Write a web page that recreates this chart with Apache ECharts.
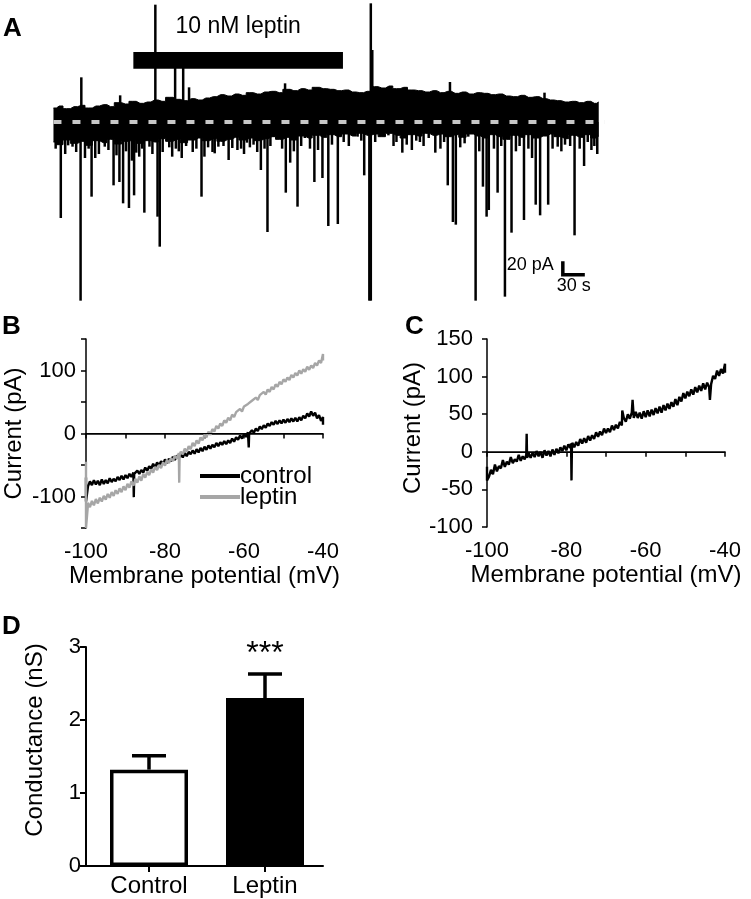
<!DOCTYPE html>
<html><head><meta charset="utf-8">
<script src="https://cdn.jsdelivr.net/npm/echarts@6/dist/echarts.min.js"></script>
<style>html,body{margin:0;padding:0;background:#fff}#c{width:751px;height:899px}</style>
</head><body><div id="c"></div>
<script>
// ---------- Panel A: whole-cell trace ----------
const bandTime = [2,10,20,30,40,50,60,70,80,90,100,110,120,130,140,150,160,170,180,190,200,210,220,230,240,250,260,270,280,290,300,310,320,330,340,350,360,370,380,390,400,410,420,430,440,450,460,470,480,490,500,510,520,530,540,550,560,570,580,590,600,610,620,630,640,650,660,670,680,690,700,710,720,730,740,746];
const bandUpper = [21,24,20,23,25,21,24,26,23,29, 27,31,28,30,33,31,37,34,32,35, 33,36,38,41,39,42,40,44,42,45, 46,44,49,47,50,48,52,50,49,47, 48,45,44,46,53,51,54,50,52,48, 47,45,47,44,46,43,45,42,44,43, 41,42,39,38,40,37,38,35,33,32, 30,31,29,31,28,30];
const bandLower = [-30,-34,-27,-32,-29,-35,-28,-31,-26,-33, -29,-27,-32,-28,-30,-25,-29,-26,-31,-27, -24,-28,-25,-29,-26,-23,-27,-24,-28,-25, -22,-26,-23,-27,-21,-24,-20,-23,-19,-22, -18,-21,-17,-20,-18,-22,-17,-20,-24,-19, -21,-17,-20,-18,-22,-19,-23,-18,-21,-24, -19,-22,-26,-20,-23,-19,-24,-21,-18,-22, -25,-20,-23,-19,-24,-21];
const spikes = [[12,-144],[28,-37],[39,-268],[45,-54],[54,-112],[59,-54],[72,-37],[84,-95],[92,-90],[97,-122],[105,-129],[112,-110],[119,-52],[126,-136],[133,-37],[144,-142],[147,-187],[156,-24],[164,-52],[169,-40],[177,-54],[192,-45],[204,-112],[208,-52],[219,-45],[227,-37],[241,-57],[246,-39],[253,-42],[266,-31],[275,-34],[285,-72],[294,-165],[303,-22],[310,-20],[319,-106],[325,-61],[335,-127],[345,-24],[358,-90],[369,-84],[377,-156],[390,-153],[417,-22],[426,-80],[433,-268],[435,-268],[450,-16],[459,-20],[478,-46],[491,-42],[502,-30],[514,-24],[523,-46],[540,-95],[547,-150],[551,-154],[568,-22],[578,-268],[588,-97],[593,-142],[596,-132],[608,-106],[618,-262],[627,-166],[644,-147],[660,-124],[666,-140],[677,-124],[690,-37],[700,-34],[713,-170],[726,-66],[736,-42],[744,-48],
  [5,-40],[18,-48],[22,-35],[33,-45],[50,-40],[64,-48],[77,-42],[88,-50],[101,-44],[109,-58],[115,-46],[123,-40],[137,-48],[151,-45],[160,-38],[173,-44],[183,-36],[197,-40],[213,-38],[222,-47],[234,-36],[258,-40],[262,-48],[270,-38],[280,-45],[290,-40],[298,-36],[314,-40],[330,-44],[340,-36],[352,-40],[363,-42],[382,-34],[398,-30],[405,-36],[422,-28],[441,-30],[466,-36],[470,-30],[484,-34],[497,-28],[507,-36],[530,-40],[535,-30],[557,-38],[563,-32],[583,-44],[603,-40],[613,-36],[633,-44],[638,-36],[650,-40],[655,-54],[683,-40],[695,-44],[707,-36],[720,-40],[731,-30],[740,-36],
  [40,67],[93,40],[141,176],[168,105],[179,93],[187,52],[318,58],[435,178],[437,108],[543,60],[672,44]];
const leptinPeriod = [111, 397];
const baselineSpan = [2, 754];
const scaleBarCorner = [697, -229];
const scaleBarSize = [30, 20]; // 30 s, 20 pA

// ---------- Panel B: I-V, control vs leptin ----------
const ivControlB = [[-100,-70],[-100,-108],[-99.5,-84],[-99,-76],[-98.5,-82],[-98,-74],[-97.5,-81],[-97,-75],[-96.5,-82],[-96,-73],[-95.5,-80],[-95,-74],[-94.5,-79],[-94,-71],[-93.5,-77],[-93,-72],[-92.5,-76],[-92,-69],[-91.5,-74],[-91,-67],[-90.5,-73],[-90,-66],[-89.5,-71],[-89,-64],[-88.5,-69],[-88,-62],[-87.9,-101],[-87.8,-64],[-87.5,-66],[-87,-59],[-86.5,-64],[-86,-58],[-85.5,-62],[-85,-54],[-84.5,-59],[-84,-52],[-83.5,-56],[-83,-48],[-82.5,-54],[-82,-46],[-81.5,-51],[-81,-44],[-80.5,-49],[-80,-41],[-79.5,-47],[-79,-40],[-78.5,-44],[-78,-37],[-77.5,-42],[-77,-35],[-76.5,-39],[-76,-33],[-75.5,-38],[-75,-31],[-74.5,-36],[-74,-29],[-73.5,-33],[-73,-27],[-72.5,-32],[-72,-25],[-71.5,-30],[-71,-23],[-70.5,-28],[-70,-21],[-69.5,-26],[-69,-19],[-68.5,-24],[-68,-18],[-67.5,-22],[-67,-15],[-66.5,-20],[-66,-14],[-65.5,-18],[-65,-12],[-64.5,-17],[-64,-11],[-63.5,-15],[-63,-8],[-62.5,-13],[-62,-6],[-61.5,-10],[-61,-3],[-60.5,-8],[-60,-1],[-59.5,-5],[-59,2],[-58.8,-22],[-58.7,0],[-58.5,-2],[-58,5],[-57.5,1],[-57,8],[-56.5,4],[-56,11],[-55.5,7],[-55,13],[-54.5,9],[-54,16],[-53.5,12],[-53,18],[-52.5,14],[-52,20],[-51.5,15],[-51,21],[-50.5,16],[-50,22],[-49.5,17],[-49,23],[-48.5,18],[-48,24],[-47.5,19],[-47,25],[-46.5,19],[-46,26],[-45.5,21],[-45,28],[-44.5,24],[-44,32],[-43.5,27],[-43,35],[-42.5,28],[-42,33],[-41.5,24],[-41,29],[-40.5,20],[-40,26],[-40,14]];
const ivLeptinB = [[-100,-45],[-100,-150],[-99.6,-120],[-99.5,-110],[-99,-117],[-98.5,-107],[-98,-114],[-97.5,-104],[-97,-111],[-96.5,-102],[-96,-108],[-95.5,-99],[-95,-105],[-94.5,-96],[-94,-102],[-93.5,-93],[-93,-99],[-92.5,-90],[-92,-96],[-91.5,-87],[-91,-93],[-90.5,-84],[-90,-90],[-89.5,-80],[-89,-86],[-88.5,-76],[-88,-83],[-87.5,-72],[-87,-78],[-86.5,-68],[-86,-75],[-85.5,-64],[-85,-70],[-84.5,-61],[-84,-66],[-83.5,-57],[-83,-62],[-82.5,-53],[-82,-58],[-81.5,-50],[-81,-55],[-80.5,-46],[-80,-51],[-79.5,-42],[-79,-47],[-78.5,-39],[-78,-44],[-77.5,-35],[-77,-40],[-76.5,-31],[-76.4,-78],[-76.3,-34],[-76,-29],[-75.5,-33],[-75,-24],[-74.5,-29],[-74,-20],[-73.5,-25],[-73,-15],[-72.5,-20],[-72,-11],[-71.5,-16],[-71,-6],[-70.5,-11],[-70,-2],[-69.5,-6],[-69,3],[-68.5,-2],[-68,7],[-67.5,3],[-67,12],[-66.5,8],[-66,16],[-65.5,12],[-65,21],[-64.5,17],[-64,25],[-63.5,21],[-63,30],[-62.5,26],[-62,34],[-61.5,31],[-61,39],[-60.5,35],[-60,43],[-59.5,40],[-59,47],[-58.5,44],[-58,52],[-57.5,49],[-57,57],[-56.5,53],[-56,61],[-55.5,58],[-55,66],[-54.5,62],[-54,70],[-53.5,66],[-53,74],[-52.5,70],[-52,78],[-51.5,74],[-51,82],[-50.5,78],[-50,86],[-49.5,82],[-49,89],[-48.5,85],[-48,93],[-47.5,89],[-47,96],[-46.5,92],[-46,100],[-45.5,95],[-45,102],[-44.5,98],[-44,106],[-43.5,101],[-43,108],[-42.5,104],[-42,112],[-41.5,108],[-41,116],[-40.5,112],[-40,126],[-40,116]];

// ---------- Panel C: leptin-induced current ----------
const ivDiffC = [[-100,-20],[-100,-38],[-99.5,-33],[-99,-24],[-98.5,-30],[-98,-17],[-97.5,-26],[-97,-19],[-96.5,-22],[-96,-11],[-95.5,-20],[-95,-13],[-94.5,-17],[-94,-7],[-93.5,-15],[-93,-10],[-92.5,-13],[-92,-4],[-91.5,-12],[-91,-6],[-90.5,-10],[-90.1,-4],[-90,24],[-89.9,-8],[-89.5,-2],[-89,-8],[-88.5,-1],[-88,-7],[-87.5,1],[-87,-6],[-86.5,0],[-86,-8],[-85.5,2],[-85,-5],[-84.5,1],[-84,-6],[-83.5,3],[-83,-4],[-82.5,4],[-82,-2],[-81.5,6],[-81,1],[-80.5,8],[-80,2],[-79.5,10],[-79,5],[-78.8,11],[-78.7,-38],[-78.6,4],[-78.5,12],[-78,6],[-77.5,13],[-77,8],[-76.5,17],[-76,11],[-75.5,18],[-75,12],[-74.5,21],[-74,15],[-73.5,22],[-73,17],[-72.5,26],[-72,20],[-71.5,27],[-71,22],[-70.5,31],[-70,25],[-69.5,31],[-69,26],[-68.5,35],[-68,29],[-67.5,36],[-67,31],[-66.5,40],[-66,35],[-65.9,55],[-65.5,45],[-65,40],[-64.5,50],[-64,44],[-63.5,52],[-63.3,69],[-63,45],[-62.5,53],[-62,45],[-61.5,52],[-61,44],[-60.5,54],[-60,46],[-59.5,55],[-59,47],[-58.5,56],[-58,49],[-57.5,58],[-57,51],[-56.5,60],[-56,52],[-55.5,62],[-55,55],[-54.5,64],[-54,57],[-53.5,66],[-53,60],[-52.5,70],[-52,62],[-51.5,73],[-51,67],[-50.5,78],[-50,71],[-49.5,80],[-49,74],[-48.5,83],[-48,76],[-47.5,86],[-47,79],[-46.5,88],[-46,81],[-45.5,91],[-45,83],[-44.5,92],[-44,86],[-43.8,69],[-43.5,90],[-43,101],[-42.5,97],[-42,108],[-41.5,101],[-41,110],[-40.5,104],[-40,117],[-40,105]];

// ---------- Panel D: conductance ----------
const categoriesD = ['Control', 'Leptin'];
const conductanceMean = [1.32, 2.30];
const conductanceSEM = [0.19, 0.33];
const significance = ['', '***'];

const FONT = '"Liberation Sans", Arial, Helvetica, sans-serif';
const chart = echarts.init(document.getElementById('c'), null, {renderer: 'canvas'});

const axLine = {show: true, lineStyle: {color: '#000', width: 1.5}};
const axTick = {show: true, length: 5, lineStyle: {color: '#000', width: 1.5}};
const ivXAxis = (gi) => ({
  gridIndex: gi, type: 'value', min: -100, max: -40, interval: 10,
  axisLine: axLine, axisTick: axTick, splitLine: {show: false},
  axisLabel: {color: '#000', fontSize: 22, fontFamily: FONT, margin: 13,
    formatter: v => (v % 20 === 0 ? String(v) : '')},
  name: 'Membrane potential (mV)', nameLocation: 'middle', nameGap: 36,
  nameTextStyle: {color: '#000', fontSize: 24, fontFamily: FONT}
});

function renderSpike(params, api) {
  const a = api.coord([api.value(0), 0]);
  const b = api.coord([api.value(0), api.value(1)]);
  return {type: 'line', shape: {x1: a[0], y1: a[1], x2: b[0], y2: b[1]},
    style: {stroke: '#000', lineWidth: 2.5}};
}
function renderScaleBar(params, api) {
  const t0 = api.value(0), v0 = api.value(1);
  const c = api.coord([t0, v0]);
  const top = api.coord([t0, v0 + scaleBarSize[1]]);
  const right = api.coord([t0 + scaleBarSize[0], v0]);
  return {type: 'group', children: [
    {type: 'polyline', shape: {points: [top, c, right]}, style: {stroke: '#000', lineWidth: 3.5, fill: null}},
    {type: 'text', style: {text: scaleBarSize[1] + ' pA', x: c[0] - 9, y: (top[1] + c[1]) / 2 - 3,
      align: 'right', textAlign: 'right', verticalAlign: 'middle', textVerticalAlign: 'middle',
      font: '18px ' + FONT, fill: '#000'}},
    {type: 'text', style: {text: scaleBarSize[0] + ' s', x: (c[0] + right[0]) / 2, y: c[1] + 2,
      align: 'center', textAlign: 'center', verticalAlign: 'top', textVerticalAlign: 'top',
      font: '18px ' + FONT, fill: '#000'}}
  ]};
}
function renderErr(params, api) {
  const i = api.value(0), m = api.value(1), s = api.value(2);
  const base = api.coord([i, m]);
  const top = api.coord([i, m + s]);
  const hw = 17;
  const ch = [
    {type: 'line', shape: {x1: base[0], y1: base[1], x2: top[0], y2: top[1]}, style: {stroke: '#000', lineWidth: 3.5}},
    {type: 'line', shape: {x1: top[0] - hw, y1: top[1], x2: top[0] + hw, y2: top[1]}, style: {stroke: '#000', lineWidth: 3.5}}
  ];
  if (significance[i]) {
    ch.push({type: 'text', style: {text: significance[i], x: top[0], y: top[1] - 4,
      align: 'center', textAlign: 'center', verticalAlign: 'bottom', textVerticalAlign: 'bottom',
      font: '32px ' + FONT, fill: '#000'}});
  }
  return {type: 'group', children: ch};
}

const panelTitle = (t, l, tp) => ({text: t, left: l, top: tp, padding: 0,
  textStyle: {fontSize: 26, fontWeight: 'bold', color: '#000', fontFamily: FONT}});

const option = {
  animation: false,
  backgroundColor: '#fff',
  textStyle: {fontFamily: FONT},
  title: [panelTitle('A', 3, 16), panelTitle('B', 2, 314), panelTitle('C', 405, 314), panelTitle('D', 2, 614)],
  legend: {
    data: ['control', 'leptin'], orient: 'vertical', left: 195, top: 459,
    itemWidth: 40, itemHeight: 4, itemGap: -3, icon: 'rect',
    textStyle: {fontSize: 24, color: '#000', fontFamily: FONT, padding: [0, 0, 0, -5]}
  },
  grid: [
    {left: 52, top: 2, width: 557, height: 300},
    {left: 86, top: 339, width: 237, height: 189},
    {left: 487, top: 339, width: 238, height: 188},
    {left: 91, top: 647, width: 232, height: 219}
  ],
  xAxis: [
    {gridIndex: 0, type: 'value', min: 0, max: 760, show: false},
    ivXAxis(1),
    ivXAxis(2),
    {gridIndex: 3, type: 'category', data: categoriesD,
      axisLine: {show: true, lineStyle: {color: '#000', width: 2}},
      axisTick: {show: true, alignWithLabel: true, length: 6, lineStyle: {color: '#000', width: 2}},
      axisLabel: {color: '#000', fontSize: 24, fontFamily: FONT, margin: 8}}
  ],
  yAxis: [
    {gridIndex: 0, type: 'value', min: -270, max: 180, show: false},
    {gridIndex: 1, type: 'value', min: -150, max: 150, interval: 50,
      axisLine: axLine, axisTick: axTick, splitLine: {show: false},
      axisLabel: {color: '#000', fontSize: 22, fontFamily: FONT, margin: 10,
        formatter: v => (v === 100 || v === 0 || v === -100 ? String(v) : '')},
      name: 'Current (pA)', nameLocation: 'middle', nameGap: 60,
      nameTextStyle: {color: '#000', fontSize: 24, fontFamily: FONT}},
    {gridIndex: 2, type: 'value', min: -100, max: 150, interval: 50,
      axisLine: axLine, axisTick: axTick, splitLine: {show: false},
      axisLabel: {color: '#000', fontSize: 22, fontFamily: FONT, margin: 14},
      name: 'Current (pA)', nameLocation: 'middle', nameGap: 60,
      nameTextStyle: {color: '#000', fontSize: 24, fontFamily: FONT, padding: [0, 0, 0, 10]}},
    {gridIndex: 3, type: 'value', min: 0, max: 3, interval: 1, offset: 5,
      axisLine: {show: true, lineStyle: {color: '#000', width: 2}},
      axisTick: {show: true, length: 6, lineStyle: {color: '#000', width: 2}},
      splitLine: {show: false},
      axisLabel: {color: '#000', fontSize: 22, fontFamily: FONT, margin: 5}}
  ],
  series: [
    // Panel A
    {type: 'line', name: 'bandUpper', xAxisIndex: 0, yAxisIndex: 0, step: 'middle', symbol: 'none',
      data: bandTime.map((t, i) => [t, bandUpper[i]]),
      lineStyle: {color: '#000', width: 1}, areaStyle: {color: '#000', opacity: 1, origin: 0},
      markArea: {silent: true, itemStyle: {color: '#000'},
        label: {show: true, position: 'top', distance: 14, color: '#000', fontSize: 23, fontFamily: FONT},
        data: [[{xAxis: leptinPeriod[0], yAxis: 80, name: '10 nM leptin'}, {xAxis: leptinPeriod[1], yAxis: 105}]]}},
    {type: 'line', name: 'bandLower', xAxisIndex: 0, yAxisIndex: 0, step: 'middle', symbol: 'none',
      data: bandTime.map((t, i) => [t, bandLower[i]]),
      lineStyle: {color: '#000', width: 1}, areaStyle: {color: '#000', opacity: 1, origin: 0}},
    {type: 'custom', name: 'spikes', xAxisIndex: 0, yAxisIndex: 0, renderItem: renderSpike,
      data: spikes, encode: {x: 0, y: 1}, z: 3},
    {type: 'line', name: 'baseline', xAxisIndex: 0, yAxisIndex: 0, symbol: 'none', z: 5,
      data: [[baselineSpan[0], 0], [baselineSpan[1], 0]],
      lineStyle: {color: '#c8c8c8', width: 4, type: [8, 11]}},
    {type: 'custom', name: 'scalebar', xAxisIndex: 0, yAxisIndex: 0, renderItem: renderScaleBar,
      data: [scaleBarCorner], encode: {x: 0, y: 1}, clip: false},
    // Panel B
    {type: 'line', name: 'control', xAxisIndex: 1, yAxisIndex: 1, symbol: 'none', data: ivControlB,
      color: '#000', itemStyle: {color: '#000'}, lineStyle: {color: '#000', width: 2.4},
      markLine: {silent: true, symbol: 'none', label: {show: false},
        lineStyle: {color: '#000', width: 1, type: 'solid'}, data: [{yAxis: 0}]}},
    {type: 'line', name: 'leptin', xAxisIndex: 1, yAxisIndex: 1, symbol: 'none', data: ivLeptinB,
      color: '#a6a6a6', itemStyle: {color: '#a6a6a6'}, lineStyle: {color: '#a6a6a6', width: 2.4}},
    // Panel C
    {type: 'line', name: 'difference', xAxisIndex: 2, yAxisIndex: 2, symbol: 'none', data: ivDiffC,
      lineStyle: {color: '#000', width: 2.4},
      markLine: {silent: true, symbol: 'none', label: {show: false},
        lineStyle: {color: '#000', width: 1, type: 'solid'}, data: [{yAxis: 0}]}},
    // Panel D
    {type: 'bar', name: 'conductance', xAxisIndex: 3, yAxisIndex: 3, barWidth: 78,
      data: conductanceMean.map((v, i) => ({value: v, itemStyle: {color: i === 0 ? '#fff' : '#000'}})),
      itemStyle: {borderColor: '#000', borderWidth: 3.5}},
    {type: 'custom', name: 'sem', xAxisIndex: 3, yAxisIndex: 3, renderItem: renderErr, clip: false,
      data: conductanceMean.map((m, i) => [i, m, conductanceSEM[i]]), encode: {x: 0, y: 1}, z: 4}
  ],
  graphic: [
    {type: 'line', shape: {x1: 85, y1: 866, x2: 92, y2: 866}, style: {stroke: '#000', lineWidth: 2}},
    {type: 'text', x: 35, y: 740, rotation: Math.PI / 2,
      style: {text: 'Conductance (nS)', font: '24px ' + FONT, fill: '#000',
        align: 'center', textAlign: 'center', verticalAlign: 'middle', textVerticalAlign: 'middle'}}
  ]
};
chart.setOption(option);
</script>
</body></html>
